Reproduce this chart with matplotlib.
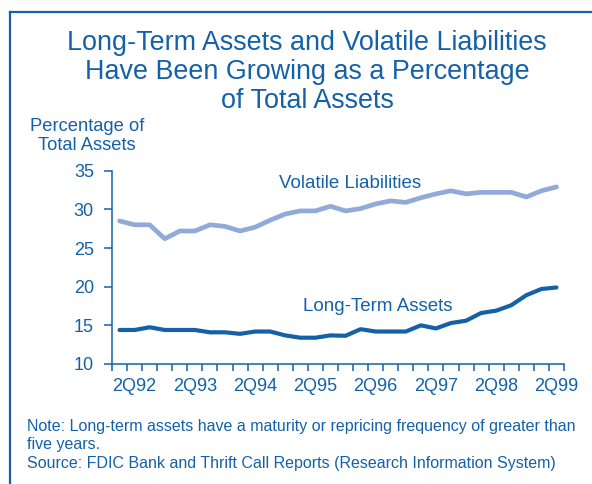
import numpy as np
import matplotlib
matplotlib.use('Agg')
import matplotlib.pyplot as plt
from matplotlib.lines import Line2D

plt.rcParams['font.family'] = ['Liberation Sans', 'DejaVu Sans']

# quarterly values, 1Q92 .. 2Q99
quarters = [f"{q}Q{y}" for y in range(92, 100) for q in range(1, 5)][:30]
volatile_liabilities = [28.5, 28.0, 28.0, 26.2, 27.2, 27.2, 28.0, 27.8, 27.2, 27.7,
                        28.6, 29.4, 29.8, 29.8, 30.4, 29.8, 30.1, 30.7, 31.1, 30.9,
                        31.5, 32.0, 32.4, 32.0, 32.2, 32.2, 32.2, 31.6, 32.4, 32.9]
long_term_assets = [14.4, 14.4, 14.75, 14.4, 14.4, 14.4, 14.1, 14.1, 13.9, 14.2,
                    14.2, 13.7, 13.4, 13.4, 13.7, 13.65, 14.5, 14.2, 14.2, 14.2,
                    15.0, 14.6, 15.3, 15.6, 16.6, 16.9, 17.6, 18.9, 19.7, 19.9]
tick_labels = ['2Q92', '2Q93', '2Q94', '2Q95', '2Q96', '2Q97', '2Q98', '2Q99']

BLUE = '#1461a8'
LIGHT = '#91aad9'

fig = plt.figure(figsize=(5.92, 4.84), dpi=100)
ax = fig.add_axes([112 / 592, 1 - 364 / 484, 452 / 592, 193.3 / 484])

x = np.arange(len(quarters))
ax.plot(x, volatile_liabilities, color=LIGHT, lw=3.4, solid_capstyle='round', solid_joinstyle='round')
ax.plot(x, long_term_assets, color=BLUE, lw=3.0, solid_capstyle='round', solid_joinstyle='round')

ax.set_xlim(-0.5, len(quarters) - 0.5)
ax.set_ylim(10, 35)
ax.set_yticks([10, 15, 20, 25, 30, 35])

label_pos = [quarters.index(t) for t in tick_labels]
ax.set_xticks(label_pos)
ax.set_xticklabels(tick_labels)
ax.set_xticks(np.arange(-0.5, len(quarters)), minor=True)
ax.tick_params(axis='x', which='major', length=0, pad=10, labelsize=13, labelcolor=BLUE)
ax.tick_params(axis='x', which='minor', length=5, width=1.1, color=BLUE, direction='out')
ax.tick_params(axis='y', length=6, width=1.1, color=BLUE, direction='out', pad=7,
               labelsize=13, labelcolor=BLUE)

for s in ['top', 'right']:
    ax.spines[s].set_visible(False)
for s in ['left', 'bottom']:
    ax.spines[s].set_color(BLUE)
    ax.spines[s].set_linewidth(1.1)

ax.text(10.6, 33.3, 'Volatile Liabilities', color=BLUE, fontsize=13.5, va='center', ha='left')
ax.text(12.2, 17.5, 'Long-Term Assets', color=BLUE, fontsize=13.5, va='center', ha='left')

fig.text(307 / 592, 1 - 72 / 484,
         'Long-Term Assets and Volatile Liabilities\nHave Been Growing as a Percentage\nof Total Assets',
         ha='center', va='center', fontsize=19.4, color=BLUE, linespacing=1.15)
fig.text(87 / 592, 1 - 136 / 484, 'Percentage of\nTotal Assets', ha='center', va='center',
         fontsize=13.2, color=BLUE, linespacing=1.12)
fig.text(27 / 592, 1 - 445 / 484,
         'Note: Long-term assets have a maturity or repricing frequency of greater than\n'
         'five years.\nSource: FDIC Bank and Thrift Call Reports (Research Information System)',
         ha='left', va='center', fontsize=11.5, color=BLUE, linespacing=1.33)

# frame around the chart
fig.add_artist(Line2D([10 / 592, 10 / 592], [0, 1 - 12 / 484], transform=fig.transFigure,
                      color=BLUE, lw=1.6))
fig.add_artist(Line2D([10 / 592, 1], [1 - 12 / 484, 1 - 12 / 484], transform=fig.transFigure,
                      color=BLUE, lw=1.6))

fig.savefig('out.png', dpi=100)
